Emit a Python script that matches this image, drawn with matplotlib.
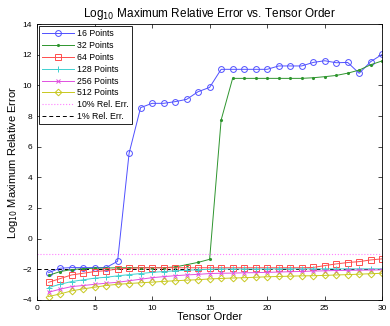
import matplotlib
matplotlib.use("Agg")
import matplotlib.pyplot as plt
import numpy as np

plt.rcParams['font.family'] = ['Liberation Sans', 'DejaVu Sans']

orders = list(range(1, 31))
p16 = [-2.22, -1.93, -1.89, -1.89, -1.89, -1.89, -1.48, 5.57, 8.55, 8.83,
       8.83, 8.94, 9.09, 9.59, 9.87, 11.05, 11.05, 11.05, 11.05, 11.05,
       11.27, 11.27, 11.27, 11.5, 11.61, 11.48, 11.5, 10.79, 11.55, 12.03]
p32 = [-2.4, -2.15, -2.02, -1.96, -1.93, -1.92, -1.9, -1.9, -1.9, -1.9,
       -1.9, -1.85, -1.7, -1.55, -1.35, 7.74, 10.46, 10.46, 10.46, 10.46,
       10.46, 10.46, 10.46, 10.5, 10.57, 10.65, 10.8, 11.0, 11.35, 11.6]
p64 = [-2.85, -2.61, -2.37, -2.26, -2.15, -2.09, -1.98, -1.94, -1.9, -1.9,
       -1.9, -1.9, -1.9, -1.9, -1.9, -1.9, -1.9, -1.9, -1.9, -1.9,
       -1.9, -1.9, -1.9, -1.88, -1.76, -1.65, -1.56, -1.5, -1.39, -1.32]
p128 = [-3.19, -2.98, -2.8, -2.69, -2.58, -2.52, -2.43, -2.35, -2.28, -2.2,
        -2.15, -2.1, -2.06, -2.03, -2.0, -1.98, -1.98, -1.98, -1.98, -1.98,
        -1.97, -1.97, -1.97, -1.97, -1.97, -1.97, -1.97, -1.97, -1.97, -1.97]
p256 = [-3.5, -3.3, -3.13, -3.06, -2.98, -2.91, -2.85, -2.75, -2.65, -2.55,
        -2.48, -2.42, -2.37, -2.33, -2.28, -2.26, -2.25, -2.23, -2.22, -2.2,
        -2.18, -2.16, -2.14, -2.12, -2.1, -2.08, -2.07, -2.06, -2.05, -2.04]
p512 = [-3.78, -3.61, -3.41, -3.28, -3.17, -3.06, -2.98, -2.93, -2.88, -2.84,
        -2.79, -2.75, -2.71, -2.68, -2.63, -2.6, -2.57, -2.55, -2.52, -2.49,
        -2.47, -2.45, -2.43, -2.42, -2.4, -2.37, -2.35, -2.32, -2.29, -2.26]
ref10 = -1.0
ref1 = -2.0

fig = plt.figure(figsize=(3.9, 3.26), dpi=100)
ax = fig.add_axes([0.095, 0.08, 0.885, 0.846])

lw = 0.7
ms = 4.2
ax.plot(orders, p16, color='#5050ff', marker='o', mfc='none', ms=ms, lw=lw, mew=0.7, label='16 Points')
ax.plot(orders, p32, color='#2e952e', marker='.', ms=2.5, lw=lw, label='32 Points')
ax.plot(orders, p64, color='#ff4d4d', marker='s', mfc='none', ms=ms, lw=lw, mew=0.7, label='64 Points')
ax.plot(orders, p128, color='#40d0d0', marker='+', ms=ms, lw=lw, mew=0.7, label='128 Points')
ax.plot(orders, p256, color='#e050e0', marker='x', ms=3.2, lw=lw, mew=0.7, label='256 Points')
ax.plot(orders, p512, color='#c8c820', marker='D', mfc='none', ms=3.4, lw=lw, mew=0.7, label='512 Points')
ax.axhline(ref10, color='#ff80ff', ls=':', lw=0.8, label='10% Rel. Err.')
ax.axhline(ref1, color='black', ls='--', lw=0.7, dashes=(4, 3), label='1% Rel. Err.', zorder=1)

ax.set_xlim(0, 30)
ax.set_ylim(-4, 14)
ax.set_xticks(range(0, 31, 5))
ax.set_yticks(range(-4, 15, 2))
ax.tick_params(direction='in', labelsize=6, length=3, width=0.5, top=True, right=True)
for s in ax.spines.values():
    s.set_linewidth(0.6)

ax.set_title('Log$_{10}$ Maximum Relative Error vs. Tensor Order', fontsize=8.5, pad=5)
ax.set_xlabel('Tensor Order', fontsize=8, labelpad=0)
ax.set_ylabel('Log$_{10}$ Maximum Relative Error', fontsize=8, labelpad=2)

leg = ax.legend(loc='upper left', fontsize=6.3, frameon=True, fancybox=False,
                edgecolor='black', framealpha=1, borderaxespad=0.25,
                handlelength=3.6, labelspacing=0.32, borderpad=0.35, handletextpad=0.4)
leg.get_frame().set_linewidth(0.6)

fig.savefig('out.png', dpi=100)
